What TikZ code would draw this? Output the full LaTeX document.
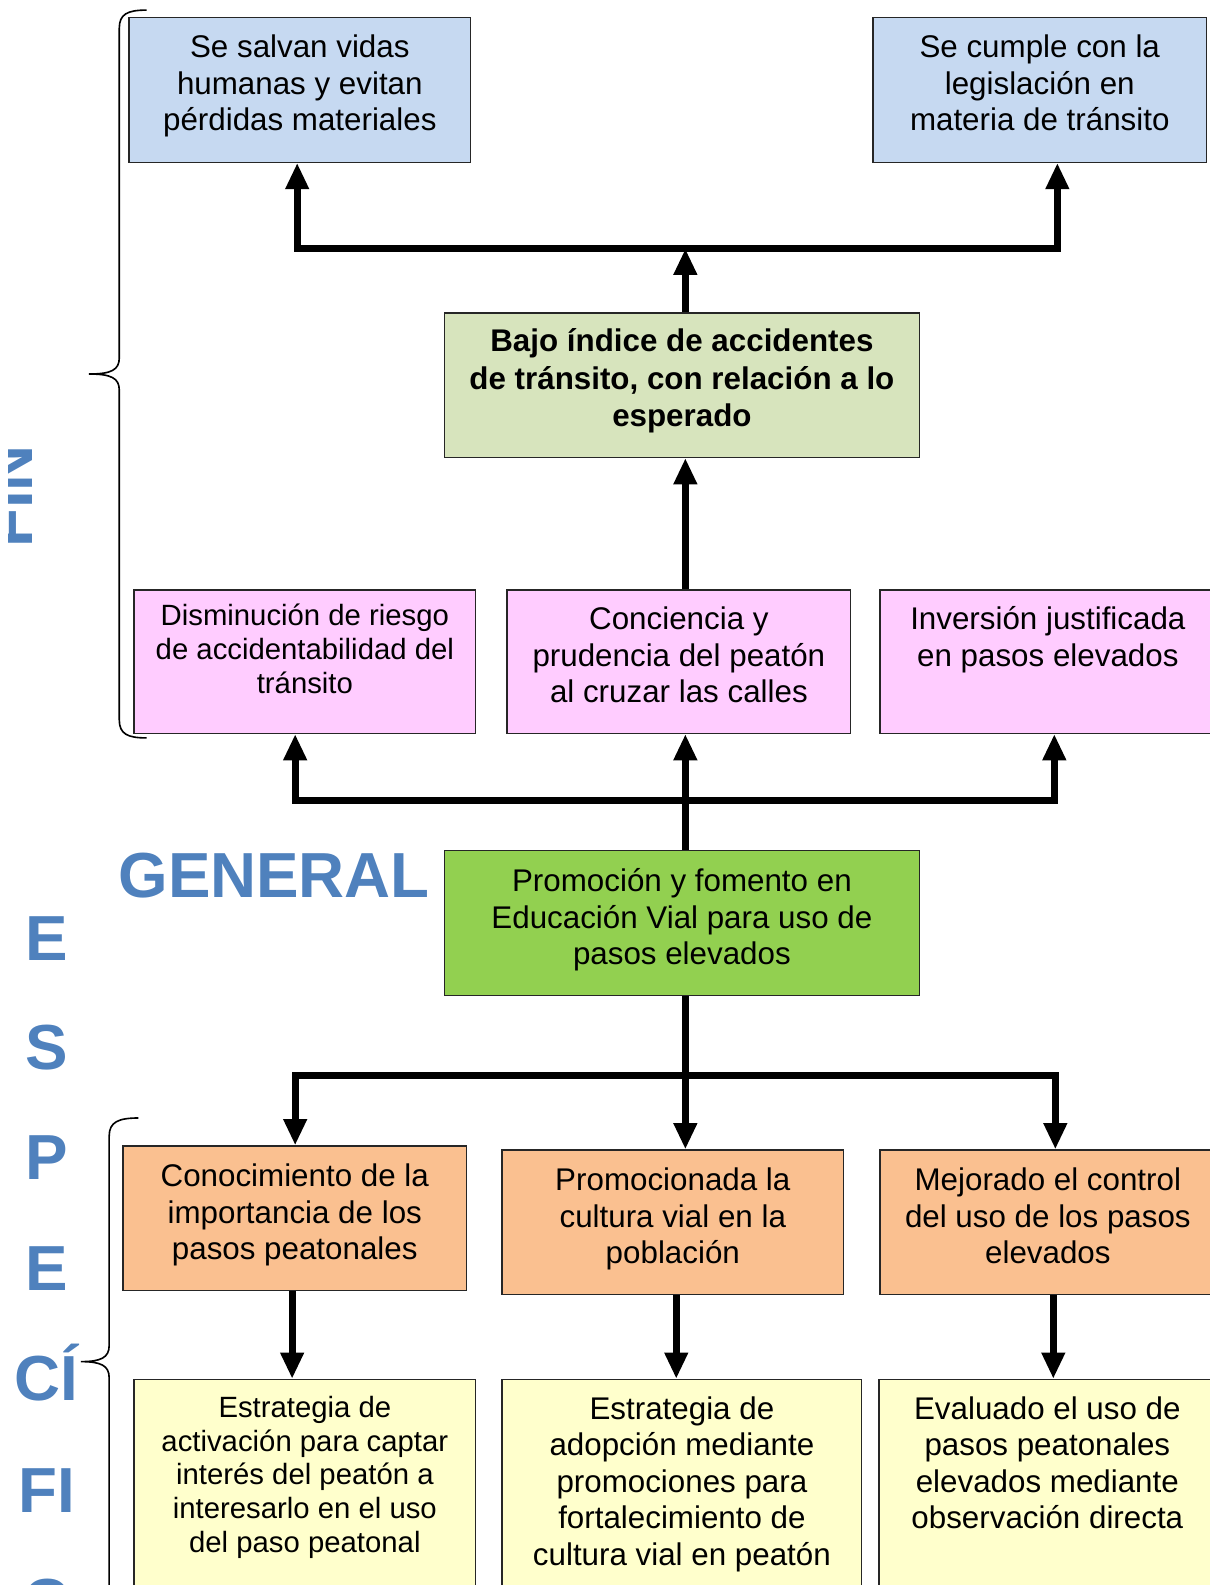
\documentclass[tikz,border=0pt]{standalone}
\usepackage{fontspec}
\setmainfont{Liberation Sans}
\usetikzlibrary{arrows.meta}
\definecolor{cblue}{HTML}{C6D9F1}
\definecolor{colive}{HTML}{D7E4BD}
\definecolor{cpink}{HTML}{FFCCFF}
\definecolor{cgreen}{HTML}{92D050}
\definecolor{corange}{HTML}{FAC090}
\definecolor{cyellow}{HTML}{FFFFCC}
\definecolor{ctitle}{HTML}{4F81BD}
\begin{document}
\begin{tikzpicture}[x=1pt,y=-1pt,
  box/.style={draw=black!85, line width=1.2pt, anchor=north west, inner sep=0pt},
  txt/.style={anchor=north, align=center, inner sep=0pt, font=\fontsize{31}{36}\selectfont},
  txtsmall/.style={anchor=north, align=center, inner sep=0pt, font=\fontsize{29}{33.4}\selectfont},
  txtbold/.style={anchor=north, align=center, inner sep=0pt, font=\fontsize{31}{37}\selectfont\bfseries},
  bigletter/.style={text=ctitle, inner sep=0pt, font=\fontsize{63}{70}\selectfont\bfseries},
  conn/.style={line width=7pt, line join=miter, draw=black},
  tipstyle/.style={},
  bracestyle/.style={line width=1.6pt, draw=black},
  >={Triangle[width=22pt,length=26pt]}
]
\useasboundingbox (0,0) rectangle (1197,1568);
\begin{scope}
\clip (0,0) rectangle (1197,1568);

% ---------- boxes ----------
\node[box, fill=cblue, minimum width=338pt, minimum height=143pt] (b1) at (127,17) {};
\node[box, fill=cblue, minimum width=330pt, minimum height=143pt] (b2) at (863,17) {};
\node[box, fill=colive, minimum width=470pt, minimum height=143pt] (bajo) at (439,309) {};
\node[box, fill=cpink, minimum width=338pt, minimum height=142pt] (pA) at (132,583) {};
\node[box, fill=cpink, minimum width=340pt, minimum height=142pt] (pB) at (501,583) {};
\node[box, fill=cpink, minimum width=332pt, minimum height=142pt] (pC) at (870,583) {};
\node[box, fill=cgreen, minimum width=470pt, minimum height=143pt] (gen) at (439,841) {};
\node[box, fill=corange, minimum width=340pt, minimum height=143pt] (oA) at (121,1133) {};
\node[box, fill=corange, minimum width=338pt, minimum height=143pt] (oB) at (496,1137) {};
\node[box, fill=corange, minimum width=332pt, minimum height=143pt] (oC) at (870,1137) {};
\node[box, fill=cyellow, minimum width=338pt, minimum height=240pt] (yA) at (132,1364) {};
\node[box, fill=cyellow, minimum width=356pt, minimum height=240pt] (yB) at (496,1364) {};
\node[box, fill=cyellow, minimum width=333pt, minimum height=240pt] (yC) at (869,1364) {};

% ---------- texts ----------
\node[txt, yshift=-9pt] (b1t) at (b1.north) {\rule{0pt}{31pt}Se salvan vidas\\humanas y evitan\\pérdidas materiales};
\node[txt, yshift=-9pt] (b2t) at (b2.north) {\rule{0pt}{31pt}Se cumple con la\\legislación en\\materia de tránsito};
\node[txtbold, yshift=-8pt] (bajot) at (bajo.north) {\rule{0pt}{31pt}Bajo índice de accidentes\\de tránsito, con relación a lo\\esperado};
\node[txtsmall, yshift=-7pt] (pAt) at (pA.north) {\rule{0pt}{29pt}Disminución de riesgo\\de accidentabilidad del\\tránsito};
\node[txt, yshift=-9pt] (pBt) at (pB.north) {\rule{0pt}{31pt}Conciencia y\\prudencia del peatón\\al cruzar las calles};
\node[txt, yshift=-9pt] (pCt) at (pC.north) {\rule{0pt}{31pt}Inversión justificada\\en pasos elevados};
\node[txt, yshift=-10pt] (gent) at (gen.north) {\rule{0pt}{31pt}Promoción y fomento en\\Educación Vial para uso de\\pasos elevados};
\node[txt, yshift=-10pt] (oAt) at (oA.north) {\rule{0pt}{31pt}Conocimiento de la\\importancia de los\\pasos peatonales};
\node[txt, yshift=-10pt] (oBt) at (oB.north) {\rule{0pt}{31pt}Promocionada la\\cultura vial en la\\población};
\node[txt, yshift=-10pt] (oCt) at (oC.north) {\rule{0pt}{31pt}Mejorado el control\\del uso de los pasos\\elevados};
\node[txtsmall, yshift=-9pt] (yAt) at (yA.north) {\rule{0pt}{29pt}Estrategia de\\activación para captar\\interés del peatón a\\interesarlo en el uso\\del paso peatonal};
\node[txt, yshift=-9pt] (yBt) at (yB.north) {\rule{0pt}{31pt}Estrategia de\\adopción mediante\\promociones para\\fortalecimiento de\\cultura vial en peatón};
\node[txt, yshift=-9pt] (yCt) at (yC.north) {\rule{0pt}{31pt}Evaluado el uso de\\pasos peatonales\\elevados mediante\\observación directa};

% ---------- junction coordinates ----------
\coordinate (jTL) at (294,246);
\coordinate (jTR) at (1046,246);
\coordinate (jTC) at (678,246);
\coordinate (jML) at (292,792);
\coordinate (jMR) at (1043,792);
\coordinate (jMC) at (678,792);
\coordinate (jBL) at (292,1064);
\coordinate (jBR) at (1044,1064);
\coordinate (jBC) at (678,1064);
\coordinate (xA) at (289,0);
\coordinate (xB) at (669,0);
\coordinate (xC) at (1042,0);

% ---------- connectors ----------
\draw[conn, <->] (jTL |- b1.south) -- (jTL) -- (jTR) -- (jTR |- b2.south);
\draw[conn, ->] (jTC |- bajo.north) -- (jTC);
\draw[conn, ->] (jTC |- pB.north) -- (jTC |- bajo.south);
\draw[conn, <->] (jML |- pA.south) -- (jML) -- (jMR) -- (jMR |- pC.south);
\draw[conn, ->] (jMC |- gen.north) -- (jMC |- pB.south);
\draw[conn] (jMC |- gen.south) -- (jBC);
\draw[conn, <->] (jBL |- oA.north) -- (jBL) -- (jBR) -- (jBR |- oC.north);
\draw[conn, ->] (jBC) -- (jBC |- oB.north);
\draw[conn, ->] (xA |- oA.south) -- (xA |- yA.north);
\draw[conn, ->] (xB |- oB.south) -- (xB |- yB.north);
\draw[conn, ->] (xC |- oC.south) -- (xC |- yC.north);

% ---------- braces ----------
\draw[bracestyle] (145,10) .. controls (126,10) and (118,14) .. (118,28) -- (118,354)
  .. controls (118,366) and (110,370) .. (88,370)
  .. controls (110,370) and (118,374) .. (118,386) -- (118,712)
  .. controls (118,726) and (126,730) .. (145,730);
\draw[bracestyle] (137,1106) .. controls (117,1106) and (108,1110) .. (108,1124) -- (108,1331)
  .. controls (108,1343) and (100,1347) .. (80,1347)
  .. controls (100,1347) and (108,1351) .. (108,1363) -- (108,1570)
  .. controls (108,1584) and (117,1588) .. (137,1588);

% ---------- big letters ----------
\node[bigletter, anchor=base west] (general) at (117,888) {GENERAL};
\node[bigletter, anchor=base] (l1) at (46,950) {E};
\node[bigletter, anchor=base] (l2) at (46,1058) {S};
\node[bigletter, anchor=base] (l3) at (46,1167) {P};
\node[bigletter, anchor=base] (l4) at (46,1277) {E};
\node[bigletter, anchor=base] (l5) at (46,1385) {CÍ};
\node[bigletter, anchor=base] (l6) at (46,1496) {FI};
\node[bigletter, anchor=base] (l7) at (46,1606) {C};
\end{scope}

\begin{scope}
\clip (8,0) rectangle (1197,1568);
\node[bigletter, rotate=90, anchor=base] (fin) at (32,491) {FIN};
\end{scope}
\end{tikzpicture}
\end{document}
